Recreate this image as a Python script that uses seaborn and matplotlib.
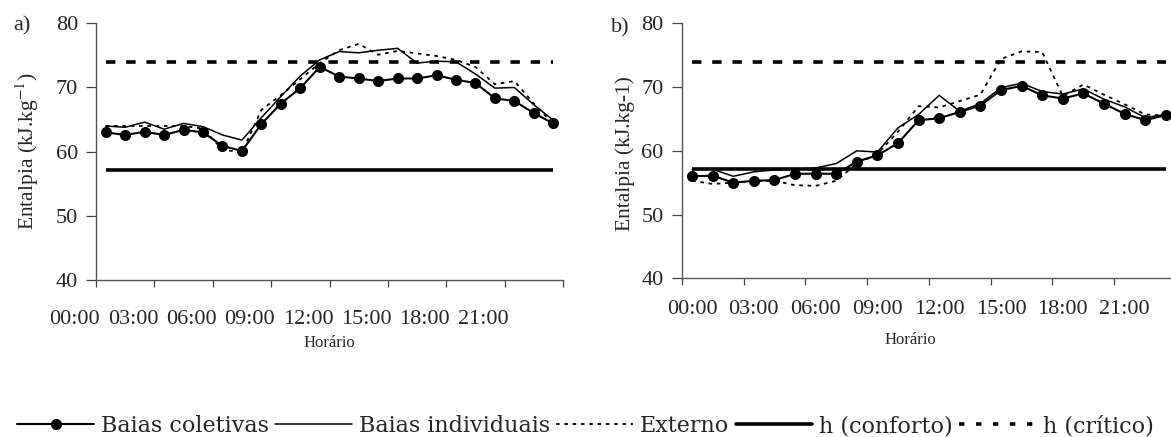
import numpy as np
import pandas as pd
import matplotlib
matplotlib.use("Agg")
import matplotlib.pyplot as plt
import seaborn as sns
from matplotlib.lines import Line2D

# Horário das leituras (meio de cada hora do dia)
hora = np.arange(24) + 0.5

# a) entalpia (kJ/kg)
coletivas_a = [63.0, 62.6, 63.1, 62.6, 63.4, 63.0, 60.9, 60.1, 64.3, 67.5, 69.9, 73.2,
               71.7, 71.4, 71.0, 71.4, 71.4, 71.9, 71.2, 70.7, 68.3, 67.9, 66.0, 64.4]
individuais_a = [64.0, 63.8, 64.6, 63.5, 64.4, 63.9, 62.6, 61.8, 65.3, 68.6, 71.8, 74.3,
                 75.6, 75.4, 75.8, 76.1, 73.8, 74.1, 74.0, 72.1, 69.9, 70.0, 67.3, 64.9]
externo_a = [64.0, 64.0, 64.0, 64.0, 64.0, 63.6, 60.3, 59.9, 66.5, 68.8, 71.3, 73.8,
             75.8, 76.8, 75.1, 75.7, 75.3, 74.9, 74.3, 73.2, 70.5, 71.0, 67.5, 64.3]

# b) entalpia (kJ/kg)
coletivas_b = [56.0, 56.1, 55.0, 55.3, 55.4, 56.4, 56.4, 56.4, 58.3, 59.3, 61.2, 64.8,
               65.1, 66.1, 67.1, 69.5, 70.2, 68.7, 68.2, 69.0, 67.4, 65.8, 64.8, 65.6]
individuais_b = [57.1, 57.1, 56.0, 56.7, 57.0, 57.1, 57.3, 58.0, 60.0, 59.8, 63.6, 65.7,
                 68.7, 66.2, 67.4, 69.9, 70.6, 69.3, 68.9, 69.7, 68.1, 66.9, 65.2, 65.7]
externo_b = [55.3, 54.8, 55.0, 55.2, 55.3, 54.6, 54.5, 55.3, 58.0, 59.5, 63.0, 67.0,
             66.8, 67.8, 68.8, 74.4, 75.6, 75.5, 68.6, 70.4, 68.8, 67.3, 65.7, 65.5]

# Limites de entalpia
h_conforto = 57.2
h_critico = 73.9

rotulos_x = ["00:00", "03:00", "06:00", "09:00", "12:00", "15:00", "18:00", "21:00"]
marcas_y = [40, 50, 60, 70, 80]

sns.set_style("ticks")
plt.rcParams["font.family"] = ["Liberation Serif", "DejaVu Serif"]
plt.rcParams["mathtext.fontset"] = "stix"

W, H = 1171, 437
fig = plt.figure(figsize=(W / 100, H / 100), dpi=100)


def px_axes(x0, x1, y_top, y_bot):
    return fig.add_axes([x0 / W, 1 - y_bot / H, (x1 - x0) / W, (y_bot - y_top) / H])


ax_a = px_axes(96, 563, 23.3, 280)
ax_b = px_axes(681.8, 1176, 23.3, 278.3)

leg_font = {"family": "DejaVu Serif", "size": 16}


def painel(ax, col, ind, ext, lbl_shift, lbl_y, ylabel):
    df = pd.DataFrame({"hora": hora, "col": col, "ind": ind, "ext": ext,
                       "conf": np.full(24, h_conforto), "crit": np.full(24, h_critico)})
    sns.lineplot(data=df, x="hora", y="conf", ax=ax, color="black", lw=2.6,
                 solid_capstyle="butt")
    sns.lineplot(data=df, x="hora", y="crit", ax=ax, color="black", lw=2.6,
                 linestyle=(0, (2.6, 3.0)), dash_capstyle="butt")
    sns.lineplot(data=df, x="hora", y="ext", ax=ax, color="black", lw=1.3,
                 linestyle=(0, (2.0, 2.6)))
    sns.lineplot(data=df, x="hora", y="ind", ax=ax, color="black", lw=1.1)
    sns.lineplot(data=df, x="hora", y="col", ax=ax, color="black", lw=1.5,
                 marker="o", markersize=7.2, markeredgecolor="black",
                 markerfacecolor="black")

    ax.set_xlim(0, 24)
    ax.set_ylim(40, 80)
    ax.set_yticks(marcas_y)
    ax.set_xticks(np.arange(0, 25, 3), labels=[""] * 9)
    # rótulos de horário deslocados em relação às marcas
    tr = ax.get_xaxis_transform()
    for k, txt in enumerate(rotulos_x):
        ax.text(3 * k + lbl_shift, lbl_y, txt, transform=tr, ha="center", va="center",
                fontsize=16, clip_on=False)
    ax.tick_params(axis="x", length=5, width=0.9, direction="out", color="#444444")
    ax.tick_params(axis="y", length=7, width=0.9, direction="out", color="#444444",
                   labelsize=16, pad=6)
    for s in ("top", "right"):
        ax.spines[s].set_visible(False)
    for s in ("left", "bottom"):
        ax.spines[s].set_color("#555555")
        ax.spines[s].set_linewidth(1.0)
    ax.set_ylabel(ylabel, fontsize=15.5)
    ax.set_xlabel("Horário", fontsize=12)


painel(ax_a, coletivas_a, individuais_a, externo_a, -1.1, -0.154,
       r"Entalpia (kJ.kg$^{-1}$)")
painel(ax_b, coletivas_b, individuais_b, externo_b, 0.5, -0.124, "Entalpia (kJ.kg-1)")

ax_a.yaxis.set_label_coords(-0.118, 0.5)
ax_b.yaxis.set_label_coords(-0.095, 0.49)
ax_a.xaxis.set_label_coords(0.5, -0.215)
ax_b.xaxis.set_label_coords(0.462, -0.21)

fig.text(22 / W, 1 - 26 / H, "a)", ha="center", va="center", fontsize=16)
fig.text(620 / W, 1 - 28 / H, "b)", ha="center", va="center", fontsize=16)

handles = [
    Line2D([], [], color="black", lw=1.5, marker="o", markersize=7),
    Line2D([], [], color="black", lw=1.1),
    Line2D([], [], color="black", lw=1.3, linestyle=(0, (2.0, 2.6))),
    Line2D([], [], color="black", lw=2.6),
    Line2D([], [], color="black", lw=2.6, linestyle=(0, (1.5, 3.2))),
]
labels = ["Baias coletivas", "Baias individuais", "Externo", "h (conforto)", "h (crítico)"]
fig.legend(handles, labels, loc="center", bbox_to_anchor=(0.5, 1 - 426 / H), ncol=5,
           frameon=False, prop=leg_font, handlelength=3.45, handletextpad=0.3,
           columnspacing=0.3, borderpad=0, borderaxespad=0)

fig.savefig("out.png", dpi=100)
